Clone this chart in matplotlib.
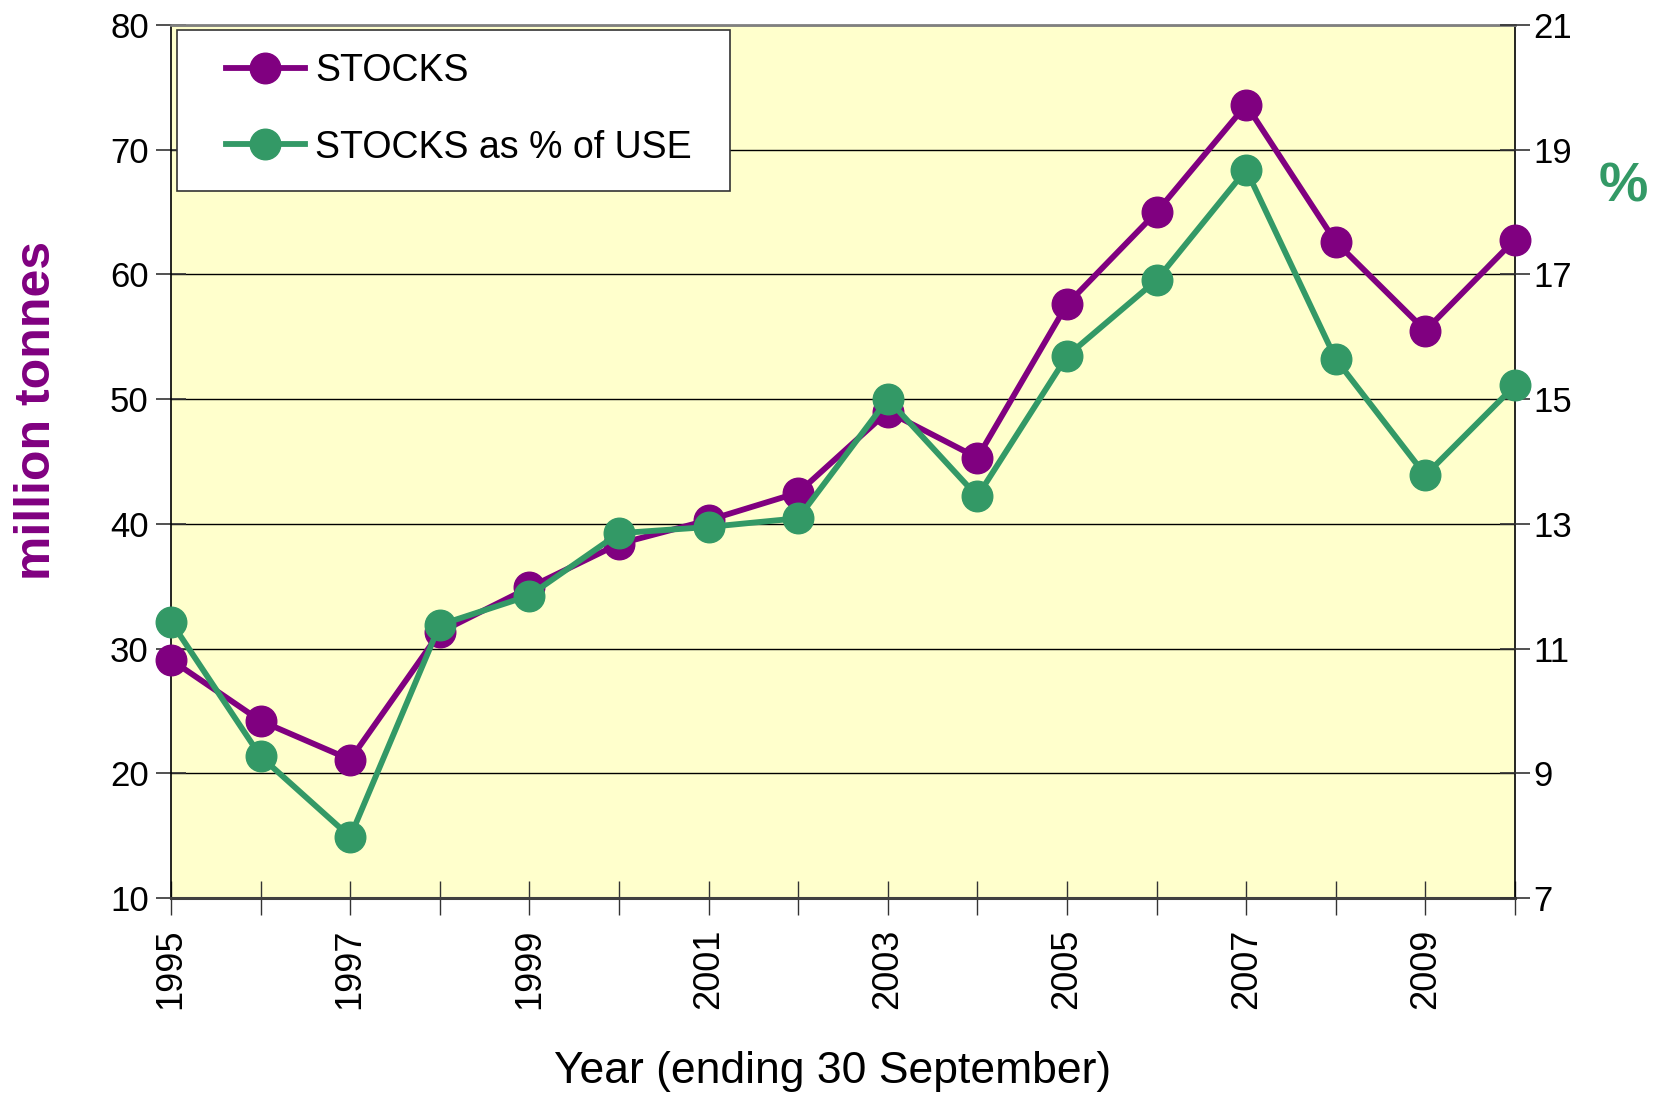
import matplotlib
matplotlib.use("Agg")
import matplotlib.pyplot as plt
from matplotlib.patches import Rectangle
from matplotlib.lines import Line2D

# Year ending 30 September
years = [1995, 1996, 1997, 1998, 1999, 2000, 2001, 2002,
         2003, 2004, 2005, 2006, 2007, 2008, 2009, 2010]
year_ticks = [1995, 1997, 1999, 2001, 2003, 2005, 2007, 2009]

# Closing stocks, million tonnes
stocks_mt = [29.1, 24.2, 21.1, 31.3, 34.9, 38.4, 40.3, 42.5,
             49.0, 45.3, 57.6, 65.0, 73.6, 62.6, 55.5, 62.8]

# Closing stocks as a percentage of use
stocks_pct = [11.43, 9.27, 7.98, 11.38, 11.85, 12.85, 12.95, 13.09,
              15.0, 13.44, 15.69, 16.91, 18.68, 15.64, 13.78, 15.22]

left_ticks = [10, 20, 30, 40, 50, 60, 70, 80]
right_ticks = [7, 9, 11, 13, 15, 17, 19, 21]

PURPLE = "#800080"
GREEN = "#339966"
FONT = ["Liberation Sans", "DejaVu Sans"]

plt.rcParams["font.family"] = FONT

W, H = 1653, 1097
fig = plt.figure(figsize=(W / 100, H / 100), dpi=100)
x0, x1, y0, y1 = 171, 1515, 25, 898
ax = fig.add_axes([x0 / W, 1 - y1 / H, (x1 - x0) / W, (y1 - y0) / H])
ax.set_facecolor("#FFFFCC")

ax.set_xlim(1995, 2010)
ax.set_ylim(10, 80)
ax.set_yticks(left_ticks)
ax.set_xticks(years)
ax.set_xticklabels([str(y) if y in year_ticks else "" for y in years],
                   rotation=90, fontsize=26)
ax.yaxis.grid(True, color="black", linewidth=1.0)
ax.set_axisbelow(True)
ax.tick_params(axis="y", direction="inout", length=22, width=1.2,
               color="#333333", labelsize=25, pad=5)
ax.tick_params(axis="x", direction="inout", length=24, width=1.0,
               color="#333333", pad=10)

for side in ("left", "right"):
    ax.spines[side].set_color("black")
    ax.spines[side].set_linewidth(1.2)
ax.spines["top"].set_color("#808080")
ax.spines["top"].set_linewidth(2)
ax.spines["bottom"].set_color("#404040")
ax.spines["bottom"].set_linewidth(2.2)

ax2 = ax.twinx()
ax2.set_ylim(7, 21)
ax2.set_yticks(right_ticks)
ax2.tick_params(axis="y", direction="inout", length=22, width=1.2,
                color="#333333", labelsize=25, pad=2)
for sp in ax2.spines.values():
    sp.set_visible(False)

ax.plot(years, stocks_mt, color=PURPLE, linewidth=4.2, marker="o",
        markersize=22, clip_on=False, zorder=3)
ax2.plot(years, stocks_pct, color=GREEN, linewidth=4.2, marker="o",
         markersize=22, clip_on=False, zorder=4)

ax.set_xlabel("Year (ending 30 September)", fontsize=32, va="center")
ax.xaxis.set_label_coords(833 / W, 1 - 1072 / H, transform=fig.transFigure)

fig.text(37 / W, 1 - 410 / H, "million tonnes", rotation=90, fontsize=36,
         fontweight="bold", color=PURPLE, ha="center", va="center")
fig.text(1623 / W, 1 - 188 / H, "%", fontsize=40, fontweight="bold",
         color=GREEN, ha="center", va="center")

# Legend box with white fill and thin dark border
lx0, ly0, lx1, ly1 = 177, 30, 730, 191
fig.patches.append(Rectangle((lx0 / W, 1 - ly1 / H), (lx1 - lx0) / W,
                             (ly1 - ly0) / H, transform=fig.transFigure,
                             facecolor="white", edgecolor="#333333",
                             linewidth=1.2, zorder=10))
handles = [
    Line2D([], [], color=PURPLE, linewidth=4.2, marker="o", markersize=22),
    Line2D([], [], color=GREEN, linewidth=4.2, marker="o", markersize=22),
]
leg = fig.legend(handles, ["STOCKS", "STOCKS as % of USE"],
                 loc="upper left", bbox_to_anchor=(226 / W, 1 - 53 / H),
                 frameon=False, fontsize=27, handlelength=2.1,
                 handletextpad=0.27, labelspacing=1.08, borderpad=0,
                 borderaxespad=0)
leg.set_zorder(11)

fig.savefig("out.png", dpi=100)
